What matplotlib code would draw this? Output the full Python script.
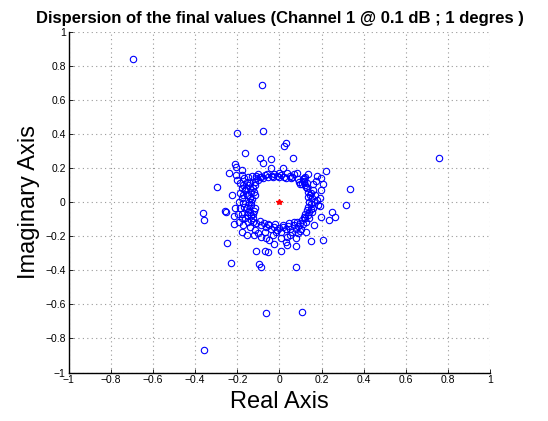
import numpy as np
import matplotlib.pyplot as plt

plt.rcParams['font.family'] = ['Liberation Sans', 'DejaVu Sans']
plt.rcParams['axes.unicode_minus'] = True

# valeurs finales (partie reelle, partie imaginaire)
outliers_re = [-0.692, -0.083, -0.203, -0.079, 0.023, 0.031, -0.163, 0.062, -0.094, 0.755,
               -0.040, -0.079, -0.039, -0.237, -0.211, -0.205, -0.180, -0.294, -0.225, 0.219,
               0.336, 0.317, 0.247, 0.262, 0.234, 0.199, 0.162, 0.208, 0.149, 0.076,
               0.076, -0.362, -0.356, -0.257, -0.254, -0.216, -0.214, -0.176, -0.251, -0.228,
               -0.097, -0.086, -0.112, -0.071, -0.055, 0.006, -0.066, 0.105, -0.359, -0.153,
               -0.120, -0.025, 0.031, 0.037, 0.077, -0.206]
outliers_im = [0.840, 0.689, 0.405, 0.415, 0.329, 0.348, 0.290, 0.260, 0.260, 0.256,
               0.254, 0.231, 0.202, 0.172, 0.221, 0.205, 0.190, 0.090, 0.041, 0.182,
               0.076, -0.020, -0.059, -0.090, -0.104, -0.088, -0.133, -0.221, -0.229, -0.256,
               -0.382, -0.063, -0.108, -0.053, -0.061, -0.082, -0.127, -0.178, -0.239, -0.360,
               -0.362, -0.380, -0.284, -0.286, -0.292, -0.284, -0.650, -0.646, -0.869, -0.194,
               -0.196, -0.247, -0.233, -0.252, -0.213, 0.159]

# anneau - haut
top_re = [-0.112, -0.102, -0.086, -0.071, -0.055, -0.037, -0.025, -0.012, -0.002, 0.009,
          0.018, 0.022, 0.037, 0.049, 0.055, 0.068, 0.083, 0.091, 0.099, 0.111,
          0.123, 0.133, -0.080, -0.060, -0.030, 0.000, 0.030, 0.060, 0.090, 0.115]
top_im = [0.155, 0.162, 0.149, 0.159, 0.147, 0.155, 0.162, 0.155, 0.168, 0.159,
          0.198, 0.147, 0.168, 0.155, 0.139, 0.162, 0.168, 0.115, 0.104, 0.135,
          0.147, 0.166, 0.140, 0.165, 0.145, 0.150, 0.140, 0.150, 0.135, 0.125]

# anneau - droite
right_re = [0.114, 0.122, 0.129, 0.137, 0.145, 0.153, 0.142, 0.148, 0.137, 0.129,
            0.122, 0.133, 0.114, 0.106, 0.160, 0.168, 0.176, 0.183, 0.191, 0.199,
            0.206, 0.199, 0.180, 0.173, 0.194, 0.160, 0.153, 0.142, 0.126, 0.148,
            0.163, 0.117, 0.108, 0.157, 0.125, 0.135, 0.150, 0.140, 0.120, 0.132]
right_im = [0.119, 0.100, 0.080, 0.061, 0.041, 0.022, 0.002, -0.014, -0.027, -0.047,
            -0.067, -0.076, -0.086, -0.106, 0.070, 0.041, 0.012, -0.018, 0.025, 0.070,
            0.104, 0.139, 0.155, 0.123, -0.025, -0.037, -0.061, -0.096, -0.115, 0.051,
            0.002, 0.139, 0.104, 0.104, 0.090, 0.030, -0.040, -0.060, -0.095, 0.110]

# anneau - bas
bottom_re = [-0.125, -0.109, -0.094, -0.086, -0.074, -0.063, -0.048, -0.040, -0.025, -0.012,
             -0.002, 0.009, 0.018, 0.029, 0.040, 0.052, 0.060, 0.068, 0.076, 0.086,
             0.096, 0.102, 0.111, 0.126, 0.068, 0.052, 0.034, -0.063, -0.048, -0.086,
             -0.102, -0.117, -0.140, -0.071, -0.032, -0.017, 0.006, 0.083, 0.099, -0.055,
             -0.020, 0.015, 0.045, 0.090]
bottom_im = [-0.115, -0.125, -0.112, -0.135, -0.121, -0.145, -0.135, -0.155, -0.145, -0.164,
             -0.151, -0.174, -0.145, -0.159, -0.139, -0.155, -0.174, -0.135, -0.159, -0.184,
             -0.125, -0.155, -0.131, -0.178, -0.115, -0.194, -0.204, -0.213, -0.223, -0.204,
             -0.184, -0.164, -0.145, -0.174, -0.194, -0.174, -0.209, -0.115, -0.170, -0.130,
             -0.130, -0.135, -0.125, -0.140]

# anneau - gauche
left_re = [-0.179, -0.166, -0.156, -0.148, -0.140, -0.133, -0.148, -0.140, -0.133, -0.148,
           -0.156, -0.140, -0.133, -0.125, -0.163, -0.179, -0.186, -0.171, -0.179, -0.186,
           -0.179, -0.171, -0.186, -0.163, -0.156, -0.117, -0.109, -0.125, -0.117, -0.125,
           -0.171, -0.148, -0.194, -0.179, -0.197, -0.210, -0.166, -0.145, -0.117, -0.129,
           -0.148, -0.160, -0.140, -0.171, -0.156, -0.137, -0.102, -0.094, -0.120, -0.128,
           -0.135, -0.120, -0.115, -0.150, -0.190, -0.200]
left_im = [0.159, 0.139, 0.119, 0.100, 0.080, 0.061, 0.041, 0.022, 0.002, -0.018,
           -0.037, -0.057, -0.076, -0.096, -0.096, -0.067, -0.037, -0.008, 0.022, 0.051,
           0.080, 0.100, 0.110, 0.070, 0.041, 0.119, 0.139, 0.080, -0.037, -0.067,
           -0.135, -0.115, -0.115, -0.096, -0.067, -0.037, -0.027, 0.002, 0.041, 0.155,
           0.149, 0.084, 0.110, 0.041, -0.076, -0.106, 0.129, 0.149, 0.060, 0.020,
           -0.020, -0.050, 0.100, -0.060, 0.000, 0.130]

re = np.array(outliers_re + top_re + right_re + bottom_re + left_re)
im = np.array(outliers_im + top_im + right_im + bottom_im + left_im)

fig = plt.figure(figsize=(5.48, 4.21), dpi=100)
ax = fig.add_axes([0.125, 0.115, 0.77, 0.81])

ax.plot(re, im, 'o', markerfacecolor='none', markeredgecolor='#0000ff',
        markersize=4.6, markeredgewidth=0.8)
ax.plot([0], [0], '*', color='red', markersize=4)

ax.set_xlim(-1, 1)
ax.set_ylim(-1, 1)
ticks = np.arange(-1, 1.01, 0.2)
labels = ['\u22121', '\u22120.8', '\u22120.6', '\u22120.4', '\u22120.2', '0',
          '0.2', '0.4', '0.6', '0.8', '1']
ax.set_xticks(ticks)
ax.set_xticklabels(labels)
ax.set_yticks(ticks)
ax.set_yticklabels(labels)
ax.tick_params(direction='in', length=3, labelsize=7.5, width=0.6, colors='black', pad=2)
ax.grid(True, linestyle=(0, (1, 3)), color='#999999', linewidth=0.8)

for s in ['top', 'right']:
    ax.spines[s].set_visible(False)
for s in ['left', 'bottom']:
    ax.spines[s].set_linewidth(1.0)

ax.set_xlabel('Real Axis', fontsize=17)
ax.set_ylabel('Imaginary Axis', fontsize=17)
ax.set_title('Dispersion of the final values (Channel 1 @ 0.1 dB ; 1 degres )',
             fontsize=12, fontweight='bold', pad=6)

fig.savefig('out.png', dpi=100)
